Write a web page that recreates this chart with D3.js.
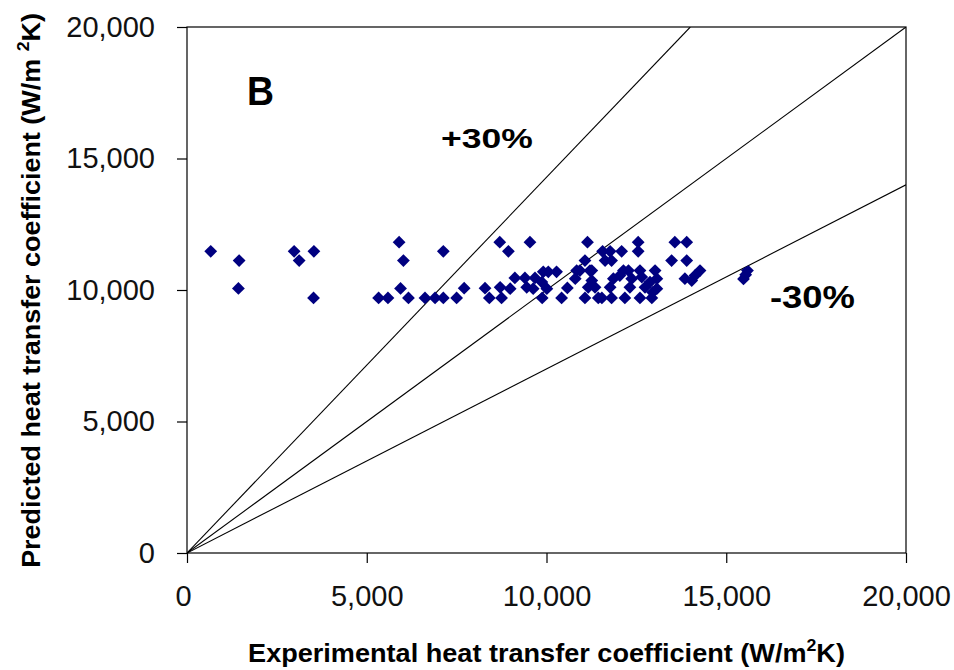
<!DOCTYPE html>
<html>
<head>
<meta charset="utf-8">
<script src="https://cdn.jsdelivr.net/npm/d3@7"></script>
<style>
  html, body { margin: 0; padding: 0; background: #fff; }
  svg { display: block; font-family: "Liberation Sans", Arial, sans-serif; }
</style>
</head>
<body>
<svg id="chart" width="954" height="670"></svg>
<script>
// ---- data ----
const experimental = [
  5900, 8700, 9540, 11140, 12550, 13570, 13900,
  660, 2980, 3530, 7130, 8940, 11560, 11770, 12090, 12550,
  1450, 3120, 6020, 11070, 11630, 11810, 13480, 13900,
  9910, 10050, 10280, 10840, 10930, 11210, 11260, 12140, 12280, 12600, 13020, 14270,
  12040, 14130,
  9120, 9400, 9680, 10800, 11860, 12370, 12650, 13070, 13850,
  9870, 11260, 12880, 14040,
  1430, 5940, 7710, 8290, 8710, 8990, 9450, 9630, 10010, 10580, 11160, 11350, 11770, 12320, 12740, 13070,
  12950,
  3520, 5330, 5590, 6160, 6620, 6900, 7130, 7500, 8410, 8750, 9880, 10420, 11070, 11440, 11540, 11810, 12180, 12600, 12930,
  15480, 15540, 15590
];
const predicted = [
  11820, 11820, 11820, 11820, 11820, 11820, 11820,
  11470, 11470, 11470, 11470, 11470, 11470, 11470, 11470, 11470,
  11120, 11120, 11120, 11120, 11120, 11120, 11120, 11120,
  10690, 10690, 10690, 10740, 10740, 10740, 10740, 10740, 10740, 10740, 10740, 10740,
  10550, 10550,
  10460, 10460, 10460, 10430, 10430, 10430, 10490, 10430, 10430,
  10300, 10360, 10300, 10360,
  10060, 10060, 10070, 10070, 10100, 10050, 10100, 10050, 10050, 10080, 10100, 10100, 10100, 10100, 10100, 10050,
  9910,
  9700, 9700, 9700, 9700, 9700, 9700, 9700, 9700, 9700, 9700, 9700, 9700, 9700, 9700, 9700, 9700, 9700, 9700, 9700,
  10420, 10580, 10740
];
const xTicks = [0, 5000, 10000, 15000, 20000];
const yTicks = [0, 5000, 10000, 15000, 20000];
const refSlopes = [1 / 0.7, 1, 0.7];
const refLabels = ["+30%", "-30%"];
const panelLabel = "B";

// ---- layout ----
const svg = d3.select("#chart");
const mLeft = 187, mRight = 906, mTop = 27, mBottom = 553;
const x = d3.scaleLinear().domain([0, 20000]).range([mLeft, mRight]);
const y = d3.scaleLinear().domain([0, 20000]).range([mBottom, mTop]);
const fmt = d3.format(",");
const lowSlope = refSlopes[2];

const defs = svg.append("defs");
defs.append("clipPath").attr("id", "plotclip")
  .append("rect").attr("x", mLeft).attr("y", mTop)
  .attr("width", mRight - mLeft).attr("height", mBottom - mTop);
// region below the -30% line
defs.append("clipPath").attr("id", "belowclip")
  .append("polygon")
  .attr("points", [[x(0), y(0)], [x(20000), y(20000 * lowSlope)], [x(20000), y(0)]].map(p => p.join(",")).join(" "));

// reference lines
const plot = svg.append("g").attr("clip-path", "url(#plotclip)");
refSlopes.forEach(s => {
  const xEnd = Math.min(20000, 20000 / s);
  plot.append("line")
    .attr("x1", x(0)).attr("y1", y(0))
    .attr("x2", x(xEnd)).attr("y2", y(xEnd * s))
    .attr("stroke", "#000").attr("stroke-width", 1.1);
});

// frame
svg.append("rect").attr("x", mLeft).attr("y", mTop)
  .attr("width", mRight - mLeft).attr("height", mBottom - mTop)
  .attr("fill", "none").attr("stroke", "#000").attr("stroke-width", 1.2);

// axes
const xAxis = d3.axisBottom(x).tickValues(xTicks).tickFormat(fmt).tickSize(10).tickPadding(22);
const gx = svg.append("g").attr("transform", `translate(0,${mBottom})`).call(xAxis);
gx.select(".domain").remove();
gx.selectAll("line").attr("stroke", "#000").attr("stroke-width", 1.2);
gx.selectAll("text").attr("font-size", 29).attr("fill", "#111")
  .attr("font-family", "Liberation Sans, Arial, sans-serif")
  .attr("dx", d => d === 0 ? -4 : 0);

const yAxis = d3.axisLeft(y).tickValues(yTicks).tickFormat(fmt).tickSize(10).tickPadding(22);
const gy = svg.append("g").attr("transform", `translate(${mLeft},0)`).call(yAxis);
gy.select(".domain").remove();
gy.selectAll("line").attr("stroke", "#000").attr("stroke-width", 1.2);
gy.selectAll("text").attr("font-size", 29).attr("fill", "#111")
  .attr("font-family", "Liberation Sans, Arial, sans-serif");

// points
const pts = experimental.map((v, i) => [v, predicted[i]]);
const r = 6.4;
const diamond = d => `M${x(d[0])},${y(d[1]) - r}L${x(d[0]) + r},${y(d[1])}L${x(d[0])},${y(d[1]) + r}L${x(d[0]) - r},${y(d[1])}Z`;
svg.append("g").selectAll("path").data(pts.filter(d => d[1] >= lowSlope * d[0])).join("path")
  .attr("d", diamond).attr("fill", "#000080");
svg.append("g").attr("clip-path", "url(#belowclip)")
  .selectAll("path").data(pts.filter(d => d[1] < lowSlope * d[0])).join("path")
  .attr("d", diamond).attr("fill", "#000080");

// helper to stretch text to a target width
function fit(t, w) {
  const bw = t.node().getBBox().width;
  t.attr("transform", `scale(${w / bw},1)`);
}

// annotations
function label(str, px, py, size, w) {
  const g = svg.append("g").attr("transform", `translate(${px},${py})`);
  const t = g.append("text").attr("x", 0).attr("y", 0)
    .attr("font-size", size).attr("font-weight", "bold").attr("fill", "#000").text(str);
  fit(t, w);
}
label(panelLabel, 247, 105, 41, 27);
label(refLabels[0], 441, 148, 28, 92);
label(refLabels[1], 770, 308, 32, 85);

// x axis title
{
  const g = svg.append("g").attr("transform", `translate(546.5,662)`);
  const t = g.append("text").attr("text-anchor", "middle")
    .attr("font-size", 26).attr("font-weight", "bold").attr("fill", "#000");
  t.append("tspan").text("Experimental heat transfer coefficient (W/m");
  t.append("tspan").attr("dy", -11).attr("font-size", 17).text("2");
  t.append("tspan").attr("dy", 11).text("K)");
  fit(t, 597);
}
// y axis title
{
  const g = svg.append("g").attr("transform", `translate(40,290.5) rotate(-90)`);
  const t = g.append("text").attr("text-anchor", "middle")
    .attr("font-size", 26).attr("font-weight", "bold").attr("fill", "#000");
  t.append("tspan").text("Predicted heat transfer coefficient (W/m ");
  t.append("tspan").attr("dy", -11).attr("font-size", 17).text("2");
  t.append("tspan").attr("dy", 11).text("K)");
  fit(t, 555);
}
</script>
</body>
</html>
